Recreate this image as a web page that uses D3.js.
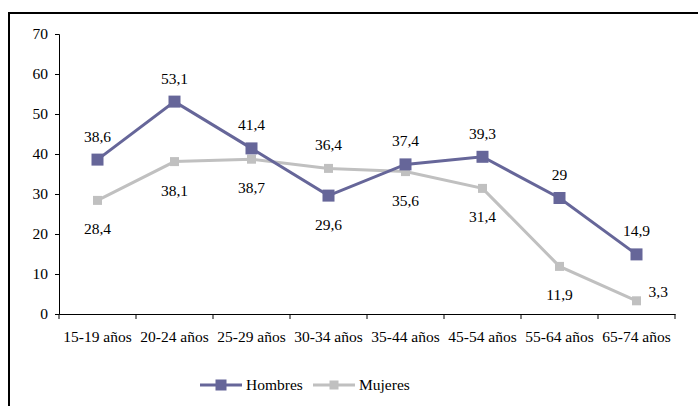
<!DOCTYPE html>
<html><head><meta charset="utf-8">
<script src="https://cdn.jsdelivr.net/npm/d3@7"></script>
<style>body{margin:0;background:#fff}svg{display:block}</style>
</head><body><svg id="c" width="698" height="406"></svg>
<script>
const categories=["15-19 años","20-24 años","25-29 años","30-34 años","35-44 años","45-54 años","55-64 años","65-74 años"];
const hombres=[38.6,53.1,41.4,29.6,37.4,39.3,29,14.9];
const mujeres=[28.4,38.1,38.7,36.4,35.6,31.4,11.9,3.3];
const hombresPos=["above","above","above","below","above","above","above","above"];
const mujeresPos=["below","below","below","above","below","below","below","right"];
const yTicks=[0,10,20,30,40,50,60,70];
const fmt=v=>String(v).replace(".",",");
const FONT="Liberation Serif";
const FS="15.5px";

const svg=d3.select("#c");
// frame
svg.append("path").attr("d","M9,406V13H698").attr("fill","none").attr("stroke","#000").attr("stroke-width",2);

const x=d3.scaleBand().domain(categories).range([59,675]);
const y=d3.scaleLinear().domain([0,70]).range([314,34]);

const ya=svg.append("g").attr("transform","translate(59,0)").call(d3.axisLeft(y).tickValues(yTicks).tickSize(4).tickPadding(7));
const xa=svg.append("g").attr("transform","translate(0,314)").call(d3.axisBottom(x).tickSize(0).tickPadding(17));
[ya,xa].forEach(a=>{a.attr("font-family",FONT).attr("font-size",FS);
  a.selectAll("text").style("font-size",FS).style("font-family",FONT).attr("fill","#000");
  a.select(".domain").attr("stroke","#000");a.selectAll("line").attr("stroke","#000");});
// x boundary ticks
const bounds=categories.map(c=>x(c)).concat([675]);
svg.append("g").selectAll("line").data(bounds).join("line")
 .attr("x1",d=>d).attr("x2",d=>d).attr("y1",314).attr("y2",319).attr("stroke","#000");

const cx=c=>x(c)+x.bandwidth()/2;
function series(vals,color,ms,pos){
  const line=d3.line().x((d,i)=>cx(categories[i])).y(d=>y(d));
  svg.append("path").datum(vals).attr("d",line).attr("fill","none").attr("stroke",color).attr("stroke-width",3);
  svg.append("g").selectAll("rect").data(vals).join("rect")
   .attr("x",(d,i)=>cx(categories[i])-ms/2).attr("y",d=>y(d)-ms/2).attr("width",ms).attr("height",ms).attr("fill",color);
  svg.append("g").selectAll("text").data(vals).join("text")
   .attr("x",(d,i)=>pos[i]==="right"?cx(categories[i])+12:cx(categories[i]))
   .attr("y",(d,i)=>pos[i]==="above"?y(d)-18:pos[i]==="below"?y(d)+34:y(d)-4)
   .attr("text-anchor",(d,i)=>pos[i]==="right"?"start":"middle")
   .style("font-size",FS).style("font-family",FONT).attr("fill","#000").text(d=>fmt(d));
}
series(mujeres,"#c0c0c0",9,mujeresPos);
series(hombres,"#666699",12,hombresPos);

// legend
const leg=[{n:"Hombres",c:"#666699",ms:11,x:200},{n:"Mujeres",c:"#c0c0c0",ms:9,x:313}];
leg.forEach(l=>{
  svg.append("line").attr("x1",l.x).attr("x2",l.x+42).attr("y1",385).attr("y2",385).attr("stroke",l.c).attr("stroke-width",3);
  svg.append("rect").attr("x",l.x+21-l.ms/2).attr("y",385-l.ms/2).attr("width",l.ms).attr("height",l.ms).attr("fill",l.c);
  svg.append("text").attr("x",l.x+46).attr("y",390).style("font-size",FS).style("font-family",FONT).attr("fill","#000").text(l.n);
});
</script></body></html>
